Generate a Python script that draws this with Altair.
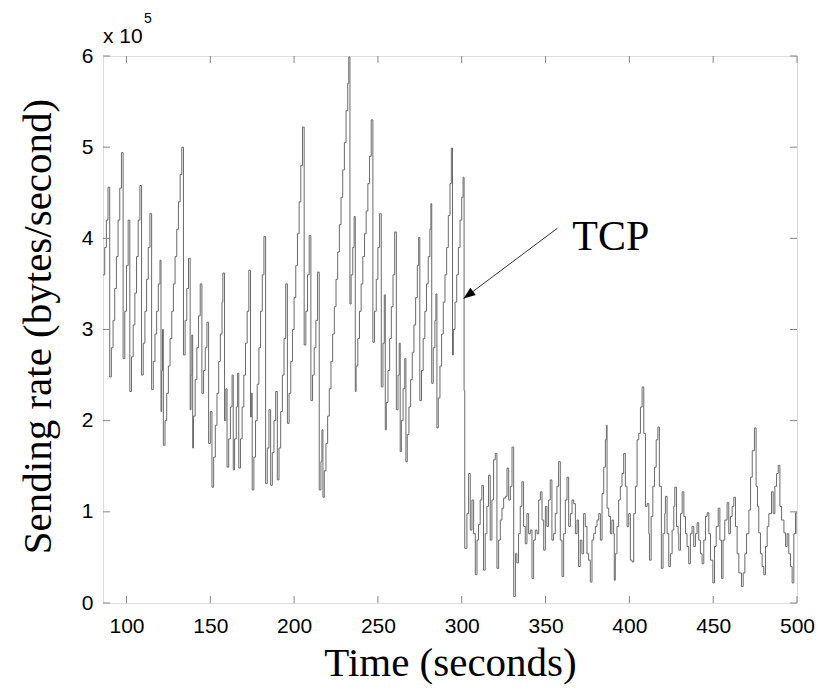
import altair as alt
import pandas as pd

# ---------------- data ----------------
# sending rate in units of 1e5 bytes/second, drawn as a staircase (step-after)

# 86 s .. 302 s : TCP saw-tooth, (time, rate) for every visible stair
sawtooth = [
    (86.0, 3.60), (87.0, 3.90), (88.0, 4.20), (89.0, 4.56),
    (90.0, 2.48), (91.0, 2.80), (92.0, 3.10), (93.0, 3.45), (94.0, 3.80), (95.0, 4.20), (96.0, 4.55), (97.0, 4.94),
    (98.0, 2.68), (99.0, 3.20), (100.0, 3.70), (101.0, 4.20),
    (102.0, 2.32), (103.0, 2.70), (104.0, 3.05), (105.0, 3.40), (106.0, 3.80), (107.0, 4.20), (108.0, 4.58),
    (109.0, 2.50), (110.0, 2.85), (111.0, 3.20), (112.0, 3.55), (113.0, 3.90), (114.0, 4.27),
    (115.0, 2.34), (116.0, 2.65), (117.0, 2.95), (118.0, 3.20), (119.0, 3.50), (120.0, 3.76),
    (120.6, 2.10), (121.0, 2.55), (121.5, 3.00),
    (122.0, 1.73), (123.0, 2.00), (124.0, 2.30), (125.0, 2.60), (126.0, 2.90), (127.0, 3.20), (128.0, 3.50),
    (129.0, 3.80), (130.0, 4.10), (131.0, 4.40), (132.0, 4.70), (133.0, 5.00),
    (134.0, 2.72), (135.0, 3.10), (136.0, 3.45), (137.0, 3.78),
    (138.0, 2.12), (138.5, 2.50), (139.0, 2.94),
    (139.5, 1.70), (140.0, 2.05), (141.0, 2.45), (142.0, 2.80), (143.0, 3.15), (144.0, 3.50),
    (145.0, 2.30), (146.0, 2.55), (147.0, 2.80), (148.0, 3.08),
    (149.0, 1.75), (150.0, 2.10),
    (151.0, 1.27), (152.0, 1.60), (153.0, 1.95), (154.0, 2.30), (155.0, 2.65), (156.0, 2.95), (157.0, 3.30), (157.5, 3.62),
    (158.5, 2.00), (159.3, 2.35),
    (160.0, 1.49), (161.0, 1.80), (162.0, 2.15), (163.0, 2.50),
    (163.7, 1.46), (164.5, 1.80), (165.5, 2.15), (166.3, 2.52),
    (167.0, 1.48), (168.0, 1.80), (169.0, 2.15), (170.0, 2.50), (171.0, 2.85), (172.0, 3.20), (173.0, 3.65),
    (174.0, 2.04), (174.5, 2.30),
    (175.0, 1.24), (176.0, 1.60), (177.0, 2.00), (178.0, 2.40), (179.0, 2.80), (180.0, 3.20), (181.0, 3.60), (182.0, 4.02),
    (183.0, 1.31), (184.0, 1.70), (185.0, 2.12),
    (186.0, 1.29), (187.0, 1.65), (188.0, 2.00), (189.0, 2.32),
    (190.0, 1.35), (191.0, 1.70), (192.0, 2.10), (193.0, 2.50), (194.0, 2.90), (195.0, 3.50),
    (196.0, 1.97), (197.0, 2.30), (198.0, 2.65), (199.0, 3.00), (200.0, 3.35), (201.0, 3.70), (202.0, 4.05),
    (203.0, 4.40), (204.0, 4.80), (205.0, 5.22),
    (206.0, 2.83), (207.0, 3.20), (208.0, 3.60), (209.0, 4.03),
    (210.0, 2.22), (211.0, 2.50), (212.0, 2.80), (213.0, 3.10), (214.0, 3.63),
    (215.0, 1.24), (216.0, 1.55), (216.6, 1.90),
    (217.2, 1.16), (218.0, 1.45), (219.0, 1.75), (220.0, 2.05), (221.0, 2.35), (222.0, 2.65), (223.0, 2.95),
    (224.0, 3.25), (225.0, 3.55), (226.0, 3.85), (227.0, 4.15), (228.0, 4.45), (229.0, 4.75), (230.0, 5.05),
    (231.0, 5.40), (232.0, 5.70), (232.6, 5.99),
    (233.3, 3.28), (234.0, 3.60), (235.0, 3.90), (235.8, 4.24),
    (236.5, 2.32), (237.0, 2.60), (238.0, 2.90), (239.0, 3.20), (240.0, 3.50), (241.0, 3.80), (242.0, 4.05),
    (243.0, 4.30), (244.0, 4.60), (245.0, 4.90), (246.0, 5.30),
    (247.0, 2.86), (248.0, 3.20), (249.0, 3.55), (250.0, 3.90), (251.0, 4.27),
    (252.0, 2.37), (253.0, 2.85), (253.8, 3.38),
    (254.4, 1.90), (255.0, 2.20), (256.0, 2.55), (257.0, 2.90), (258.0, 3.25), (259.0, 3.60), (260.0, 4.07),
    (261.0, 2.12), (262.0, 2.50), (262.7, 2.85),
    (263.3, 1.66), (264.0, 2.00), (265.0, 2.35), (266.0, 2.68),
    (266.7, 1.55), (267.5, 1.85), (268.5, 2.15), (269.5, 2.45), (270.5, 2.75), (271.5, 3.05), (272.5, 3.35),
    (273.5, 3.70), (274.3, 4.01),
    (275.0, 2.22), (276.0, 2.55), (277.0, 2.90), (278.0, 3.20), (279.0, 3.50), (280.0, 3.80), (281.0, 4.10), (281.6, 4.38),
    (282.1, 2.41), (283.0, 2.80), (284.0, 3.10), (284.6, 3.39),
    (285.2, 1.92), (286.0, 2.25), (287.0, 2.60), (288.0, 2.95), (289.0, 3.30), (290.0, 3.60), (291.0, 3.90),
    (292.0, 4.25), (293.0, 4.60), (293.8, 4.99),
    (294.5, 2.72), (295.0, 3.00), (296.0, 3.30), (297.0, 3.60), (298.0, 3.90), (299.0, 4.20), (300.0, 4.45), (300.8, 4.67),
    (301.4, 2.33), (301.8, 0.60),
]

# 303 s .. 500 s : low, noisy rate
low_time = [
    303.1, 304.1, 305.1, 306.1, 307.1, 308.1, 309.1, 310.0, 311.0, 312.0,
    313.0, 314.0, 315.0, 316.0, 317.0, 318.0, 319.0, 320.0, 321.0, 322.0,
    323.0, 324.0, 325.0, 326.0, 327.0, 328.0, 329.0, 330.0, 331.0, 332.0,
    332.9, 333.9, 334.9, 335.9, 336.9, 337.9, 338.9, 339.9, 340.9, 341.9,
    342.9, 343.9, 344.9, 345.9, 346.9, 347.9, 348.9, 349.9, 350.8, 351.8,
    352.8, 353.8, 354.8, 355.8, 356.8, 357.8, 358.8, 359.8, 360.8, 361.8,
    362.8, 363.8, 364.8, 365.8, 366.8, 367.8, 368.8, 369.7, 370.7, 371.7,
    372.7, 373.7, 374.7, 375.7, 376.7, 377.7, 378.7, 379.7, 380.7, 381.7,
    382.7, 383.7, 384.7, 385.7, 386.3, 386.7, 387.7, 388.7, 389.6, 390.6,
    391.0, 391.6, 392.6, 393.6, 394.6, 395.6, 396.6, 397.6, 398.6, 399.6,
    400.6, 401.6, 402.6, 403.6, 404.6, 405.6, 406.6,
    407.6, 408.6, 409.6, 410.6, 411.6, 412.0, 413.0, 414.0, 415.0, 416.0,
    417.0, 417.9, 419.1, 420.1, 421.1, 421.5, 422.5, 423.5, 424.5, 425.5,
    426.5, 427.1, 428.1, 429.1, 429.5, 430.5, 431.5, 432.5, 433.5, 434.4,
    435.4, 436.4, 437.4, 438.4, 439.4, 440.4, 441.4, 442.4, 443.4, 444.4,
    445.4, 446.4, 447.4, 448.4, 449.8, 450.8, 451.8, 453.0, 454.0, 455.0,
    455.9, 456.9, 458.3, 459.3, 460.3, 461.3, 462.3, 463.3, 464.3, 465.3,
    466.9, 467.9, 468.9, 469.9, 471.3, 472.3, 473.3, 474.6, 475.6, 476.4,
    477.2, 478.2, 479.2, 480.2, 481.2, 482.2, 483.2, 484.8, 485.8, 486.8,
    487.8, 488.8, 489.8, 490.8, 492.2, 493.2, 494.1, 495.1, 496.1, 497.1,
    498.1, 499.1, 500.0,
]
low_rate = [
    0.98, 1.42, 0.80, 1.13, 0.76, 0.31, 0.69, 0.86, 1.13, 1.29,
    0.36, 0.76, 1.06, 1.40, 0.69, 1.13, 1.57, 1.64, 0.38, 0.69,
    0.91, 1.04, 1.15, 1.17, 1.48, 1.13, 1.28, 1.71, 0.07, 0.54,
    0.44, 0.76, 1.06, 1.33, 0.84, 0.65, 0.98, 0.76, 0.80, 0.27,
    0.69, 0.80, 0.76, 1.13, 1.22, 0.91, 0.58, 1.06, 0.84, 1.13,
    1.35, 0.69, 0.76, 0.98, 1.28, 1.55, 0.69, 0.29, 0.76, 1.13,
    1.38, 0.84, 0.98, 1.13, 1.09, 0.76, 0.91, 0.40, 0.69, 0.54,
    0.98, 0.84, 0.54, 0.47, 0.23, 0.69, 0.76, 0.84, 0.91, 0.98,
    0.69, 1.20, 1.49, 1.79, 1.95, 1.04, 0.95, 0.76, 0.91, 0.76,
    0.25, 0.54, 0.84, 1.13, 1.28, 1.42, 1.64, 1.28, 0.84, 0.98,
    0.47, 0.45, 0.98, 1.28, 1.79, 1.86, 2.15,
    2.37, 1.86, 1.06, 1.09, 0.76, 0.47, 0.95, 1.28, 1.49, 1.79,
    1.93, 1.28, 0.38, 0.76, 0.98, 1.17, 0.76, 0.40, 0.54, 0.80,
    1.06, 1.27, 0.84, 0.76, 0.58, 0.98, 1.22, 0.95, 0.76, 0.62,
    0.43, 0.76, 0.84, 0.62, 0.76, 0.88, 0.69, 0.54, 0.43, 0.69,
    0.95, 0.99, 0.76, 0.47, 0.22, 0.62, 0.84, 1.04, 0.69, 0.27,
    0.69, 0.91, 1.10, 0.76, 0.95, 1.06, 1.16, 0.84, 0.54, 0.33,
    0.18, 0.33, 0.54, 0.76, 1.02, 1.38, 1.67, 1.92, 1.28, 1.06,
    0.77, 0.54, 0.40, 0.31, 0.62, 0.84, 0.98, 1.22, 0.98, 1.28,
    1.42, 1.51, 1.06, 0.91, 0.77, 0.62, 0.76, 0.54, 0.40, 0.22,
    0.76, 0.99, 0.76,
]

x_ticks = [100, 150, 200, 250, 300, 350, 400, 450, 500]
y_ticks = [0, 1, 2, 3, 4, 5, 6]

# annotation: arrow from the "TCP" label to the curve
arrow_t = [357.0, 301.1]
arrow_v = [4.11, 3.34]
label_t = [366.0]
label_v = [4.01]
label_text = ["TCP"]

# ---------------- chart ----------------
W, H = 694, 547
FRAME = "#858585"
TICK_LEN = 7

xs = alt.Scale(domain=[86, 500], nice=False, zero=False)
ys = alt.Scale(domain=[0, 6], nice=False, zero=False)

df = pd.DataFrame({
    "t": [p[0] for p in sawtooth] + low_time,
    "v": [p[1] for p in sawtooth] + low_rate,
})

line = alt.Chart(df).mark_line(
    color="#6a6a6a", strokeWidth=1, interpolate="step-after", clip=True
).encode(
    x=alt.X("t:Q", scale=xs, axis=alt.Axis(
        values=x_ticks, format="d", ticks=False, tickSize=0, domain=False, grid=False,
        labelFont="Liberation Sans", labelFontSize=21, labelColor="black",
        labelPadding=12, labelFlush=False,
        title="Time (seconds)", titleFont="Liberation Serif", titleFontSize=41,
        titleFontWeight="normal", titleColor="black",
        titleX=W / 2, titleY=72, titleAlign="center", titleBaseline="alphabetic")),
    y=alt.Y("v:Q", scale=ys, axis=alt.Axis(
        values=y_ticks, format="d", ticks=False, tickSize=0, domain=False, grid=False,
        labelFont="Liberation Sans", labelFontSize=21, labelColor="black",
        labelPadding=10, labelFlush=False,
        title="Sending rate (bytes/second)", titleFont="Liberation Serif", titleFontSize=41,
        titleFontWeight="normal", titleColor="black",
        titleX=-53, titleY=270, titleAngle=270, titleAlign="center",
        titleBaseline="alphabetic")),
    order="t:Q",
)

xt = pd.DataFrame({"t": x_ticks})
yt = pd.DataFrame({"v": y_ticks})

xtick_bottom = alt.Chart(xt).mark_rule(color=FRAME, strokeWidth=1).encode(
    x=alt.X("t:Q", scale=xs), y=alt.value(H), y2=alt.value(H - TICK_LEN))
xtick_top = alt.Chart(xt).mark_rule(color=FRAME, strokeWidth=1).encode(
    x=alt.X("t:Q", scale=xs), y=alt.value(0), y2=alt.value(TICK_LEN))
ytick_left = alt.Chart(yt).mark_rule(color=FRAME, strokeWidth=1).encode(
    y=alt.Y("v:Q", scale=ys), x=alt.value(0), x2=alt.value(TICK_LEN))
ytick_right = alt.Chart(yt).mark_rule(color=FRAME, strokeWidth=1).encode(
    y=alt.Y("v:Q", scale=ys), x=alt.value(W), x2=alt.value(W - TICK_LEN))

adf = pd.DataFrame({"t": arrow_t, "v": arrow_v})
arrow_line = alt.Chart(adf).mark_line(color="#333333", strokeWidth=1).encode(
    x=alt.X("t:Q", scale=xs), y=alt.Y("v:Q", scale=ys))
arrow_head = alt.Chart(adf.iloc[[1]]).mark_point(
    shape="M0,0 L-1,-0.38 L-1,0.38 Z", filled=True, color="black", opacity=1,
    size=560, angle=143, strokeWidth=0).encode(
    x=alt.X("t:Q", scale=xs), y=alt.Y("v:Q", scale=ys))

ldf = pd.DataFrame({"t": label_t, "v": label_v, "s": label_text})
tcp_label = alt.Chart(ldf).mark_text(
    font="Liberation Serif", fontSize=42, color="black", align="left", baseline="middle").encode(
    x=alt.X("t:Q", scale=xs), y=alt.Y("v:Q", scale=ys), text="s:N")

exp_base = alt.Chart(pd.DataFrame({"s": ["x 10"]})).mark_text(
    font="Liberation Sans", fontSize=21, color="black", align="left", baseline="alphabetic").encode(
    x=alt.value(0), y=alt.value(-13), text="s:N")
exp_sup = alt.Chart(pd.DataFrame({"s": ["5"]})).mark_text(
    font="Liberation Sans", fontSize=14, color="black", align="left", baseline="alphabetic").encode(
    x=alt.value(41), y=alt.value(-33), text="s:N")

chart = alt.layer(
    line, xtick_bottom, xtick_top, ytick_left, ytick_right,
    arrow_line, arrow_head, tcp_label, exp_base, exp_sup,
).properties(
    width=W, height=H,
    autosize=alt.AutoSizeParams(type="none"),
    padding={"left": 95, "top": 48, "right": 20, "bottom": 85},
).configure_view(
    stroke=FRAME, strokeWidth=1.3,
).configure(background="white")

chart.save("out.html", embed_options={"renderer": "svg", "actions": False})
